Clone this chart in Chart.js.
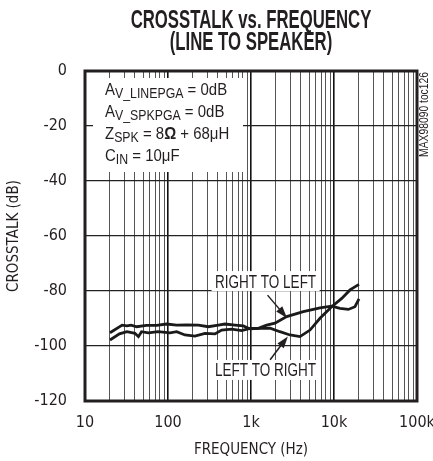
<!DOCTYPE html>
<html>
<head>
<meta charset="utf-8">
<script src="https://cdn.jsdelivr.net/npm/chart.js@4"></script>
<style>
  html, body { margin: 0; padding: 0; background: #fff; }
</style>
</head>
<body>
<canvas id="myChart" width="433" height="461"></canvas>
<script>
// right-to-left crosstalk (upper curve at the arrow)
const rtlFreq = [20, 28, 32, 36, 42, 55, 73, 96, 127, 168, 232, 306, 404, 486, 642, 808, 973, 1225, 1545, 1945, 2690, 4270, 6780, 9370, 11800, 14900, 17900, 20000];
const rtlDb = [-95.2, -92.4, -92.7, -92.4, -93.0, -92.5, -92.5, -92.0, -92.4, -92.3, -92.4, -93.0, -92.4, -92.0, -92.4, -92.7, -93.8, -93.6, -92.4, -91.7, -89.3, -87.5, -86.1, -85.5, -86.3, -86.7, -85.7, -82.9];

// left-to-right crosstalk
const ltrFreq = [20, 26, 32, 40, 44, 48, 58, 76, 106, 127, 160, 211, 279, 368, 443, 585, 771, 973, 1225, 1700, 2230, 2950, 3890, 5140, 6780, 9370, 12400, 15600, 20000];
const ltrDb = [-97.8, -95.6, -94.8, -95.4, -96.6, -94.8, -95.2, -94.8, -95.2, -94.8, -96.0, -96.4, -95.4, -95.6, -94.2, -93.9, -94.4, -93.6, -93.6, -93.5, -94.8, -96.0, -96.6, -94.2, -89.9, -85.7, -82.7, -79.6, -77.6];

const decadeValues = [10, 100, 1000, 10000, 100000];
const decadeLabels = ['10', '100', '1k', '10k', '100k'];

const titleLines = ['CROSSTALK vs. FREQUENCY', '(LINE TO SPEAKER)'];

const AXIS_FONT = "'DejaVu Sans Condensed', 'Liberation Sans', sans-serif";
const NOTE_FONT = "'Liberation Sans', Arial, sans-serif";
const INK = '#231f20';

// build log grid: 1..9 per decade
function logTicks() {
    let out = [];
    for (let i = 0; i < decadeValues.length - 1; i++) {
        for (let k = 1; k < 10; k++) {
            out.push({ value: decadeValues[i] * k, major: k == 1 });
        }
    }
    out.push({ value: decadeValues[decadeValues.length - 1], major: true });
    return out;
}

function toPoints(xs, ys) {
    return xs.map((x, i) => ({ x: x, y: ys[i] }));
}

// condensed-looking text: squeeze horizontally
function drawNarrow(ctx, text, x, y, font, sx, align) {
    ctx.save();
    ctx.translate(x, y);
    ctx.scale(sx, 1);
    ctx.font = font;
    ctx.textAlign = align || 'left';
    ctx.fillText(text, 0, 0);
    ctx.restore();
}

function drawRich(ctx, x, y, parts, sx) {
    ctx.save();
    ctx.translate(x, y);
    ctx.scale(sx, 1);
    let cx = 0;
    parts.forEach(p => {
        ctx.font = (p[3] ? 'bold ' : '') + p[1] + 'px ' + NOTE_FONT;
        ctx.fillText(p[0], cx, p[2]);
        cx += ctx.measureText(p[0]).width;
    });
    ctx.restore();
}

const conditions = [
    [['A', 17, 0], ['V_LINEPGA', 14, 3], [' = 0dB', 17, 0]],
    [['A', 17, 0], ['V_SPKPGA', 14, 3], [' = 0dB', 17, 0]],
    [['Z', 17, 0], ['SPK', 14, 3], [' = 8', 17, 0], ['\u03A9', 17, 0, true], [' + 68\u03BCH', 17, 0]],
    [['C', 17, 0], ['IN', 14, 3], [' = 10\u03BCF', 17, 0]]
];

// curve labels: text position and arrow (from -> tip) in data units
const curveNotes = [
    { text: 'RIGHT TO LEFT', f: 1500, db: -76.4, from: [1580, -81.5], tip: [2717, -89.8] },
    { text: 'LEFT TO RIGHT', f: 1500, db: -108.7, from: [1700, -105], tip: [2780, -96.5] }
];

const annotations = {
    id: 'annotations',
    beforeDatasetsDraw(chart) {
        const ctx = chart.ctx, a = chart.chartArea;
        const xs = chart.scales.x, ys = chart.scales.y;
        ctx.save();
        ctx.fillStyle = '#fff';
        ctx.fillRect(a.left + 8, a.top + 7, 150, 94);
        curveNotes.forEach(n => {
            ctx.fillRect(xs.getPixelForValue(n.f) - 54, ys.getPixelForValue(n.db) - 10, 108, 20);
        });
        ctx.restore();
    },
    afterDatasetsDraw(chart) {
        const ctx = chart.ctx, a = chart.chartArea;
        const xs = chart.scales.x, ys = chart.scales.y;
        ctx.save();
        ctx.fillStyle = INK;
        ctx.strokeStyle = INK;
        ctx.textBaseline = 'alphabetic';
        conditions.forEach((line, i) => {
            drawRich(ctx, a.left + 20, a.top + 24 + i * 22, line, 0.88);
        });

        curveNotes.forEach(n => {
            drawNarrow(ctx, n.text, xs.getPixelForValue(n.f), ys.getPixelForValue(n.db) + 6.5,
                '18px ' + NOTE_FONT, 0.75, 'center');
            const x0 = xs.getPixelForValue(n.from[0]), y0 = ys.getPixelForValue(n.from[1]);
            const x1 = xs.getPixelForValue(n.tip[0]), y1 = ys.getPixelForValue(n.tip[1]);
            const ang = Math.atan2(y1 - y0, x1 - x0);
            ctx.lineWidth = 1.5;
            ctx.beginPath();
            ctx.moveTo(x0, y0);
            ctx.lineTo(x1 - 9 * Math.cos(ang), y1 - 9 * Math.sin(ang));
            ctx.stroke();
            ctx.beginPath();
            ctx.moveTo(x1, y1);
            ctx.lineTo(x1 - 12 * Math.cos(ang) + 4 * Math.sin(ang), y1 - 12 * Math.sin(ang) - 4 * Math.cos(ang));
            ctx.lineTo(x1 - 12 * Math.cos(ang) - 4 * Math.sin(ang), y1 - 12 * Math.sin(ang) + 4 * Math.cos(ang));
            ctx.closePath();
            ctx.fill();
        });

        // plot frame
        ctx.lineWidth = 3;
        ctx.strokeRect(a.left, a.top, a.right - a.left, a.bottom - a.top);

        // title, centred over the plot
        const cx = (a.left + a.right) / 2;
        titleLines.forEach((t, i) => {
            drawNarrow(ctx, t, cx, 28 + i * 22, 'bold 25px ' + NOTE_FONT, 0.67, 'center');
        });

        // part number at the right edge
        ctx.translate(425, a.top + 1);
        ctx.rotate(-Math.PI / 2);
        ctx.textBaseline = 'middle';
        drawNarrow(ctx, 'MAX98090 toc126', 0, 0, '12px ' + NOTE_FONT, 0.86, 'right');
        ctx.restore();
    }
};

const ctx = document.getElementById('myChart').getContext('2d');
const myChart = new Chart(ctx, {
    type: 'line',
    data: {
        datasets: [{
            label: 'Right to left',
            data: toPoints(rtlFreq, rtlDb),
            borderColor: '#1a1a1a',
            borderWidth: 2.8,
            pointRadius: 0,
            tension: 0,
            fill: false
        }, {
            label: 'Left to right',
            data: toPoints(ltrFreq, ltrDb),
            borderColor: '#1a1a1a',
            borderWidth: 2.8,
            pointRadius: 0,
            tension: 0,
            fill: false
        }]
    },
    options: {
        responsive: false,
        animation: false,
        layout: { padding: { left: 0, right: 16, top: 71, bottom: 0 } },
        plugins: {
            legend: { display: false },
            tooltip: { enabled: false },
            title: { display: false }
        },
        scales: {
            x: {
                type: 'logarithmic',
                min: 10,
                max: 100000,
                afterBuildTicks: function(scale) {
                    scale.ticks = logTicks();
                },
                afterFit: function(scale) {
                    scale.height = 60;
                    scale.paddingLeft = 0;
                    scale.paddingRight = 0;
                },
                border: { display: false },
                grid: {
                    drawTicks: false,
                    color: function(c) { return c.tick && c.tick.major ? '#111' : '#555'; },
                    lineWidth: function(c) { return c.tick && c.tick.major ? 1.6 : 1; }
                },
                ticks: {
                    autoSkip: false,
                    maxRotation: 0,
                    padding: 12,
                    color: INK,
                    font: { family: AXIS_FONT, size: 16 },
                    callback: function(value) {
                        const i = decadeValues.indexOf(value);
                        return i >= 0 ? decadeLabels[i] : '';
                    }
                },
                title: {
                    display: true,
                    text: 'FREQUENCY (Hz)',
                    color: INK,
                    font: { family: AXIS_FONT, size: 15 },
                    padding: { top: 0, bottom: 2 }
                }
            },
            y: {
                min: -120,
                max: 0,
                afterFit: function(scale) {
                    scale.width = 85;
                    scale.paddingTop = 0;
                    scale.paddingBottom = 0;
                },
                border: { display: false },
                grid: {
                    drawTicks: false,
                    color: '#222',
                    lineWidth: 1.3
                },
                ticks: {
                    stepSize: 20,
                    padding: 18,
                    color: INK,
                    font: { family: AXIS_FONT, size: 16 }
                },
                title: {
                    display: true,
                    text: 'CROSSTALK (dB)',
                    color: INK,
                    font: { family: AXIS_FONT, size: 15 },
                    padding: { top: 5, bottom: 0 }
                }
            }
        }
    },
    plugins: [annotations]
});
</script>
</body>
</html>
